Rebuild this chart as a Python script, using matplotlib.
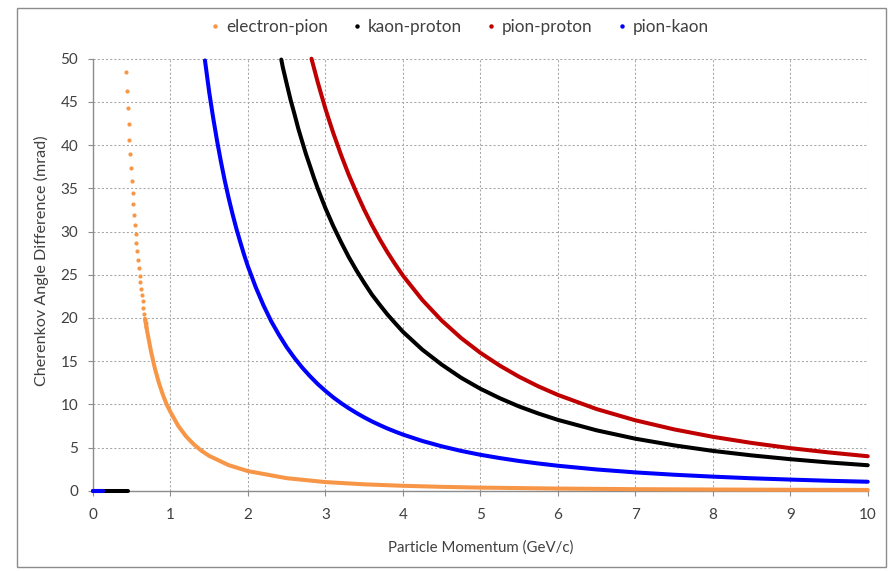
"""
Cherenkov angle difference between particle pairs vs momentum.
Saves out.png (891x571).
"""
import matplotlib as mpl
import matplotlib.pyplot as plt
from matplotlib.lines import Line2D
from matplotlib.patches import Rectangle

# ── data ──────────────────────────────────────────────────────────────────────
# electron-pion: separate dots near the top, then a dense curve
ep_dot_p = [0.43, 0.44, 0.45, 0.46, 0.47, 0.48, 0.49, 0.50, 0.51, 0.52, 0.53,
            0.54, 0.55, 0.56, 0.57, 0.58, 0.59, 0.60, 0.61, 0.62, 0.63, 0.64,
            0.65, 0.66, 0.67, 0.68, 0.69]
ep_dot_y = [48.5, 46.3, 44.3, 42.4, 40.6, 39.0, 37.4, 35.9, 34.5, 33.2, 31.9,
            30.8, 29.7, 28.7, 27.7, 26.7, 25.8, 24.9, 24.1, 23.4, 22.6, 21.9,
            21.2, 20.5, 19.9, 19.4, 18.9]
ep_p = [0.67, 0.70, 0.75, 0.80, 0.85, 0.90, 0.95, 1.0, 1.1, 1.2, 1.3, 1.4,
        1.5, 1.75, 2.0, 2.5, 3.0, 3.5, 4.0, 4.5, 5.0, 6.0, 7.0, 8.0, 9.0, 10.0]
ep_y = [19.9, 18.4, 16.05, 14.1, 12.5, 11.15, 10.0, 9.1, 7.5, 6.3, 5.37,
        4.62, 4.03, 2.96, 2.27, 1.45, 1.0, 0.74, 0.57, 0.45, 0.36, 0.25, 0.18,
        0.14, 0.11, 0.09]

kp_zero_p = [0.0, 0.45]
kp_p = [2.43, 2.45, 2.5, 2.55, 2.6, 2.65, 2.7, 2.75, 2.8, 2.85, 2.9, 2.95,
        3.0, 3.1, 3.2, 3.3, 3.4, 3.5, 3.6, 3.7, 3.8, 3.9, 4.0, 4.25, 4.5,
        4.75, 5.0, 5.25, 5.5, 5.75, 6.0, 6.5, 7.0, 7.5, 8.0, 8.5, 9.0, 9.5,
        10.0]
kp_y = [49.9, 49.0, 47.1, 45.24, 43.6, 41.9, 40.4, 38.92, 37.6, 36.25, 35.0,
        33.84, 32.7, 30.65, 28.8, 27.06, 25.5, 24.06, 22.7, 21.53, 20.4,
        19.39, 18.4, 16.33, 14.6, 13.08, 11.8, 10.71, 9.75, 8.93, 8.2, 6.99,
        6.02, 5.25, 4.61, 4.09, 3.65, 3.27, 2.95]

pp_zero_p = [0.0, 0.13]
pp_p = [2.82, 2.85, 2.9, 2.95, 3.0, 3.05, 3.1, 3.2, 3.3, 3.4, 3.5, 3.6, 3.7,
        3.8, 3.9, 4.0, 4.25, 4.5, 4.75, 5.0, 5.25, 5.5, 5.75, 6.0, 6.5, 7.0,
        7.5, 8.0, 8.5, 9.0, 9.5, 10.0]
pp_y = [50.0, 48.99, 47.3, 45.74, 44.2, 42.8, 41.43, 38.9, 36.58, 34.5,
        32.53, 30.75, 29.11, 27.6, 26.21, 24.9, 22.08, 19.7, 17.68, 15.96,
        14.48, 13.19, 12.07, 11.09, 9.45, 8.15, 7.10, 6.24, 5.53, 4.93, 4.43,
        3.99]

pk_zero_p = [0.0, 0.13]
pk_p = [1.445, 1.5, 1.55, 1.6, 1.65, 1.7, 1.75, 1.8, 1.85, 1.9, 1.95, 2.0,
        2.1, 2.2, 2.3, 2.4, 2.5, 2.6, 2.7, 2.8, 2.9, 3.0, 3.1, 3.2, 3.3, 3.4,
        3.5, 3.6, 3.7, 3.8, 3.9, 4.0, 4.25, 4.5, 4.75, 5.0, 5.25, 5.5, 5.75,
        6.0, 6.5, 7.0, 7.5, 8.0, 8.5, 9.0, 9.5, 10.0]
pk_y = [49.8, 46.1, 43.2, 40.55, 38.13, 35.9, 33.9, 32.05, 30.34, 28.8,
        27.31, 25.95, 23.56, 21.46, 19.61, 18.04, 16.61, 15.37, 14.25, 13.26,
        12.35, 11.55, 10.81, 10.15, 9.55, 9.0, 8.49, 8.02, 7.6, 7.2, 6.84, 6.5,
        5.76, 5.14, 4.61, 4.16, 3.78, 3.44, 3.15, 2.89, 2.46, 2.12, 1.85, 1.63,
        1.44, 1.29, 1.15, 1.04]

# ── style ─────────────────────────────────────────────────────────────────────
mpl.rcParams.update({
    "font.family":  ["Lato", "DejaVu Sans"],
    "font.size":    11,
    "text.color":   "#404040",
})

C_EP = "#F79646"
C_KP = "#000000"
C_PP = "#C00000"
C_PK = "#0000FF"
AXIS_CLR = "#8c8c8c"
LW = 2.9

fig = plt.figure(figsize=(8.91, 5.71), dpi=100)
ax = fig.add_axes([0.1044, 0.1406, 0.8695, 0.7566])

line_kw = dict(lw=LW, solid_capstyle="round", solid_joinstyle="round",
               clip_on=False, zorder=3)

# electron-pion
ax.plot(ep_dot_p, ep_dot_y, "o", color=C_EP, ms=3.0, mew=0, clip_on=False, zorder=3)
ax.plot(ep_p, ep_y, color=C_EP, **line_kw)
# kaon-proton
ax.plot(kp_zero_p, [0] * len(kp_zero_p), color=C_KP, **line_kw)
ax.plot(kp_p, kp_y, color=C_KP, **line_kw)
# pion-proton
ax.plot(pp_zero_p, [0] * len(pp_zero_p), color=C_PP, **line_kw)
ax.plot(pp_p, pp_y, color=C_PP, **line_kw)
# pion-kaon
ax.plot(pk_zero_p, [0] * len(pk_zero_p), color=C_PK, **line_kw)
ax.plot(pk_p, pk_y, color=C_PK, **line_kw)

# ── axes formatting ───────────────────────────────────────────────────────────
ax.set_xlim(0, 10)
ax.set_ylim(0, 50)
ax.set_xticks(range(0, 11))
ax.set_yticks(range(0, 51, 5))
ax.grid(True, color="#a6a6a6", linestyle=(0, (2, 2)), lw=0.75, zorder=0)
ax.set_axisbelow(True)

for side in ("top", "right"):
    ax.spines[side].set_visible(False)
for side in ("left", "bottom"):
    ax.spines[side].set_color(AXIS_CLR)
    ax.spines[side].set_linewidth(1.0)

ax.tick_params(axis="both", direction="out", length=3.6, width=0.8,
               color=AXIS_CLR, labelcolor="#404040", labelsize=11)
ax.tick_params(axis="x", pad=9)
ax.tick_params(axis="y", pad=7)

ax.set_xlabel("Particle Momentum (GeV/c)", fontsize=10.8, color="#404040")
ax.set_ylabel("Cherenkov Angle Difference (mrad)", fontsize=11.6, color="#404040")
ax.xaxis.set_label_coords(0.5, -0.115)
ax.yaxis.set_label_coords(-0.057, 0.532)

# ── legend ────────────────────────────────────────────────────────────────────
names = ["electron-pion", "kaon-proton", "pion-proton", "pion-kaon"]
colors = [C_EP, C_KP, C_PP, C_PK]
handles = [Line2D([], [], ls="none", marker="o", ms=3.2, mew=0, color=c)
           for c in colors]
fig.legend(handles, names, loc="center", bbox_to_anchor=(0.516, 0.953),
           ncol=4, frameon=False, fontsize=12.3, handlelength=0.5,
           handletextpad=0.4, columnspacing=1.45)

# ── outer chart border ────────────────────────────────────────────────────────
fig.patches.append(Rectangle((17 / 891, 4 / 571), 869 / 891, 559 / 571,
                             transform=fig.transFigure, fill=False,
                             edgecolor=AXIS_CLR, lw=1.0))

fig.savefig("out.png", dpi=100)
